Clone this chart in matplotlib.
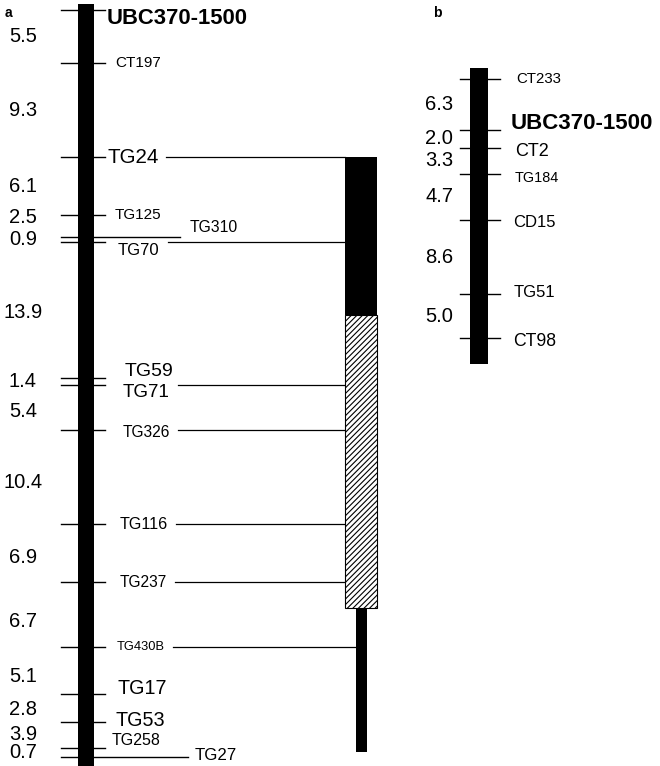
import matplotlib
matplotlib.use("Agg")
import matplotlib.pyplot as plt
from matplotlib.patches import Rectangle

plt.rcParams['font.family'] = ['Liberation Sans', 'DejaVu Sans']
plt.rcParams['hatch.linewidth'] = 0.8

# chromosome a: markers and their map positions (cM)
a_markers = ["UBC370-1500", "CT197", "TG24", "TG125", "TG310", "TG70",
             "TG59", "TG71", "TG326", "TG116", "TG237", "TG430B",
             "TG17", "TG53", "TG258", "TG27"]
a_pos = [0.0, 5.8, 16.0, 22.3, 24.7, 25.2, 40.0, 40.8, 45.7, 55.9,
         62.2, 69.2, 74.3, 77.4, 80.2, 81.2]
a_dist = ["5.5", "9.3", "6.1", "2.5", "0.9", "13.9", "1.4", "5.4",
          "10.4", "6.9", "6.7", "5.1", "2.8", "3.9", "0.7"]
# markers joined to the introgression bar
a_linked = ["TG24", "TG70", "TG71", "TG326", "TG116", "TG237", "TG430B"]

# chromosome b
b_markers = ["CT233", "UBC370-1500", "CT2", "TG184", "CD15", "TG51", "CT98"]
b_pos = [7.5, 13.0, 15.0, 17.8, 22.8, 30.9, 35.7]
b_dist = ["6.3", "2.0", "3.3", "4.7", "8.6", "5.0"]

# introgressed segments (start, end, kind)
seg_start = [16.0, 33.2, 65.0]
seg_end = [33.2, 65.0, 80.7]
seg_kind = ["solid", "hatched", "narrow"]

# ---- layout / style ----
PX = 9.2  # pixels per cM in the figure
a_lab_x = [107, 115, 107, 115, 190, 118, 125, 123, 123, 120, 120, 117,
           117, 115, 112, 195]
a_lab_dy = [9, 0, 0, 0, -10, 9, -6, 7, 2, 0, 0, 0, -5, -2, -7, -2]
a_fs = [15.8, 11, 14.8, 11, 11.3, 12, 14, 13.5, 11.2, 11.6, 11.2, 9.3,
        14.2, 14.2, 11.5, 12.2]
a_tick_end = {"TG310": 180, "TG27": 188}
a_dist_dy = [0, 0, 0, -9, 0, 3, 0, 4, 5, 4, 7, 6, 2, 0, 0]

b_lab_x = [516, 511, 515, 515, 513, 514, 513]
b_lab_dy = [0, -6, 4, 4, 3, -2, 3]
b_fs = [10.8, 16, 13, 10.4, 12, 12, 12.7]

fig = plt.figure(figsize=(6.6, 7.66), dpi=100)
ax = fig.add_axes([0, 0, 1, 1])
ax.set_xlim(0, 660)
ax.set_ylim((766 - 10) / PX, -10 / PX)
ax.axis('off')

# chromosome a
ax.add_patch(Rectangle((78, -6 / PX), 16, 90, color='black', lw=0, zorder=3))
texts = {}
for i, (name, p) in enumerate(zip(a_markers, a_pos)):
    ax.plot([61, a_tick_end.get(name, 105)], [p, p], color='black', lw=1.0, zorder=2)
    bold = name.startswith("UBC")
    texts[name] = ax.text(a_lab_x[i], p + a_lab_dy[i] / PX, name, fontsize=a_fs[i],
                          fontweight='bold' if bold else 'normal',
                          ha='left', va='center')
for i, d in enumerate(a_dist):
    mid = (a_pos[i] + a_pos[i + 1]) / 2 + a_dist_dy[i] / PX
    ax.text(23, mid, d, fontsize=14.5, ha='center', va='center')

# introgression bar
for s, e, k in zip(seg_start, seg_end, seg_kind):
    if k == "solid":
        ax.add_patch(Rectangle((345, s), 32, e - s, color='black', lw=0, zorder=3))
    elif k == "hatched":
        ax.add_patch(Rectangle((345, s), 32, e - s, facecolor='white',
                               edgecolor='black', hatch='//////', lw=0.8, zorder=3))
    else:
        ax.add_patch(Rectangle((356, s), 11, e - s, color='black', lw=0, zorder=3))

# connector lines from the labels to the bar
fig.canvas.draw()
renderer = fig.canvas.get_renderer()
inv = ax.transData.inverted()
for name in a_linked:
    p = a_pos[a_markers.index(name)]
    bb = texts[name].get_window_extent(renderer)
    x0 = inv.transform((bb.x1, 0))[0] + 8
    x1 = 345
    for s, e, k in zip(seg_start, seg_end, seg_kind):
        if s <= p <= e and k == "narrow":
            x1 = 356
    ax.plot([x0, x1], [p, p], color='black', lw=0.9, zorder=2)

# chromosome b
ax.add_patch(Rectangle((470, 6.3), 18, 32.2, color='black', lw=0, zorder=3))
for i, (name, p) in enumerate(zip(b_markers, b_pos)):
    ax.plot([460, 500], [p, p], color='black', lw=1.0, zorder=2)
    bold = name.startswith("UBC")
    ax.text(b_lab_x[i], p + b_lab_dy[i] / PX, name, fontsize=b_fs[i],
            fontweight='bold' if bold else 'normal', ha='left', va='center')
for i, d in enumerate(b_dist):
    mid = (b_pos[i] + b_pos[i + 1]) / 2
    ax.text(439, mid, d, fontsize=14.5, ha='center', va='center')

# panel letters
ax.text(5, 3 / PX, "a", fontsize=10, fontweight='bold', ha='left', va='center')
ax.text(433, 3 / PX, "b", fontsize=10, fontweight='bold', ha='left', va='center')

fig.savefig("out.png", dpi=100)
